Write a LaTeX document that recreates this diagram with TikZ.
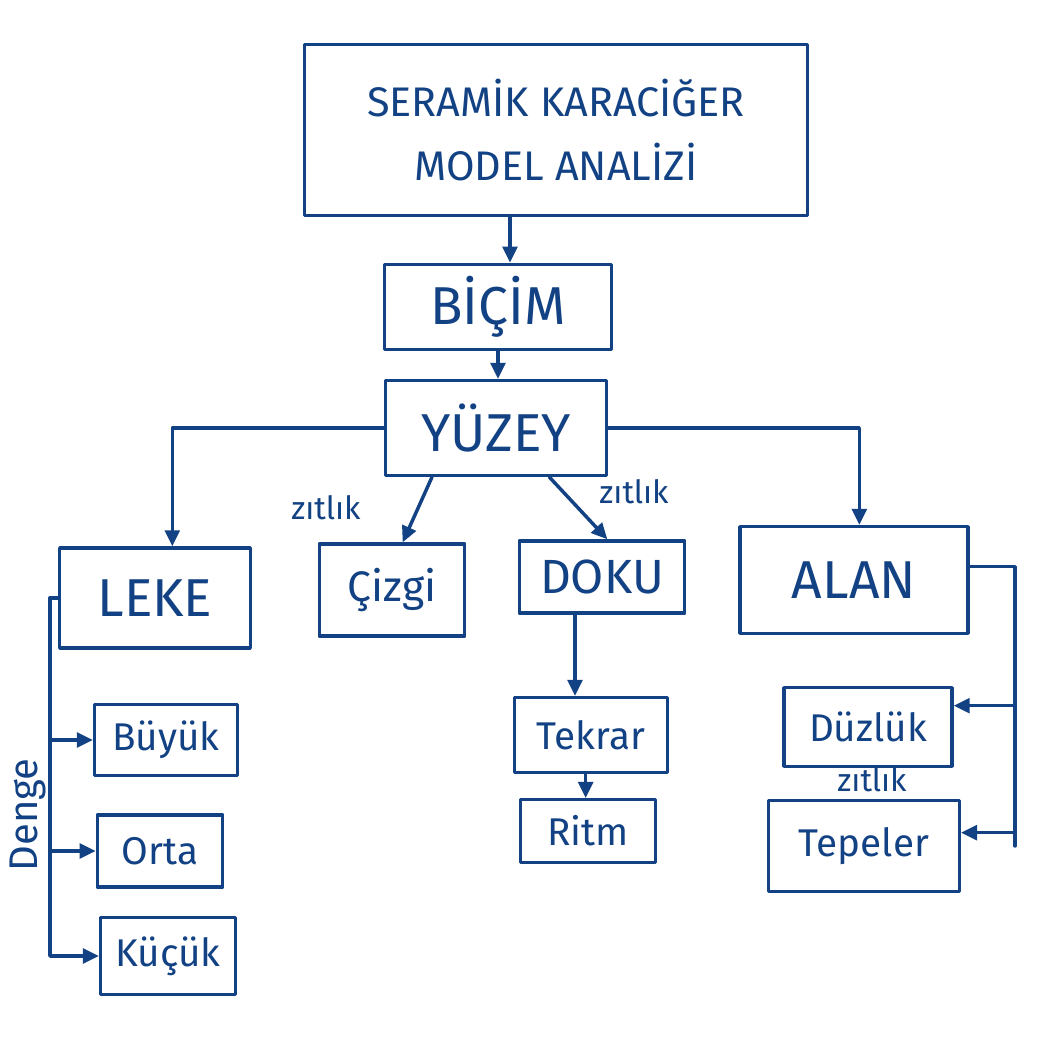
\documentclass[tikz,border=0pt]{standalone}
\usepackage{fontspec}
\setmainfont{Fira Sans}
\usetikzlibrary{arrows.meta}
\definecolor{ink}{RGB}{18,66,132}
\begin{document}
\begin{tikzpicture}[x=0.75pt,y=-0.75pt,
  ink/.style={draw=ink,line width=2.6pt,line cap=round,line join=round},
  box/.style={ink,rectangle,inner sep=0pt,text=ink},
  arr/.style={ink,-{Triangle[length=12pt,width=11pt]}},
  lbl/.style={text=ink,inner sep=0pt},
  f/.style={font=\fontsize{#1}{#1}\selectfont}]
\path[use as bounding box,fill=white] (0,0) rectangle (1060,1040);
% main boxes
\node[box,minimum width=377pt,minimum height=128pt,align=center,font=\fontsize{31}{48}\selectfont] (title) at (556,130) {SERAMİK KARACİĞER\\MODEL ANALİZİ};
\node[box,minimum width=170pt,minimum height=64pt,f=40] (bicim) at (498,307) {BİÇİM};
\node[box,minimum width=166pt,minimum height=71pt,f=40] (yuzey) at (496,428) {YÜZEY};
\node[box,minimum width=143pt,minimum height=75pt,f=40] (leke) at (155,598) {LEKE};
\node[box,minimum width=109pt,minimum height=69pt,f=32] (cizgi) at (392,590) {Çizgi};
\node[box,minimum width=124pt,minimum height=54pt,f=36] (doku) at (602,577) {DOKU};
\node[box,minimum width=171pt,minimum height=80pt,f=40] (alan) at (854,580) {ALAN};
% sub boxes
\node[box,minimum width=107pt,minimum height=53pt,f=29] (buyuk) at (166,740) {Büyük};
\node[box,minimum width=94pt,minimum height=54pt,f=29] (orta) at (160,851) {Orta};
\node[box,minimum width=101pt,minimum height=58pt,f=29] (kucuk) at (168,956) {Küçük};
\node[box,minimum width=115pt,minimum height=56pt,f=29] (tekrar) at (591,735) {Tekrar};
\node[box,minimum width=101pt,minimum height=47pt,f=29] (ritm) at (588,831) {Ritm};
\node[box,minimum width=126pt,minimum height=59pt,f=29] (duzluk) at (868,727) {Düzlük};
\node[box,minimum width=143pt,minimum height=68pt,f=29] (tepeler) at (864,846) {Tepeler};
% labels
\node[lbl,f=24] (z1) at (326,508) {zıtlık};
\node[lbl,f=24] (z2) at (634,492) {zıtlık};
\node[lbl,f=24] (z3) at (872,780) {zıtlık};
\node[lbl,f=30,rotate=90] (denge) at (28,815) {Denge};
% connectors
\draw[arr] (bicim.north |- title.south) ++(12,0) coordinate (t1) -- (t1 |- bicim.north);
\draw[arr] (bicim.south) -- (bicim.south |- yuzey.north);
\draw[arr] (yuzey.west) -| ([xshift=13pt]leke.north);
\draw[arr] ([xshift=-48pt]yuzey.south) -- ([xshift=8pt]cizgi.north);
\draw[arr] ([xshift=40pt]yuzey.south) -- ([xshift=4pt]doku.north);
\draw[arr] (yuzey.east) -| ([xshift=4pt]alan.north);
\draw[arr] ([xshift=-12pt]tekrar.north |- doku.south) -- ([xshift=-12pt]tekrar.north);
\draw[arr] ([xshift=-4pt]tekrar.south) -- ([xshift=-4pt]tekrar.south |- ritm.north);
% left bus (Denge)
\coordinate (lbus) at (50,0);
\draw[ink] (leke.west) -- (lbus |- leke.west);
\draw[arr] (lbus |- leke.west) |- (kucuk.west);
\draw[arr] (lbus |- buyuk.west) -- (buyuk.west);
\draw[arr] (lbus |- orta.west) -- (orta.west);
% right bus
\coordinate (rbus) at (1015,0);
\draw[ink] ([yshift=10pt]alan.east) -- ([yshift=10pt]rbus |- alan.east) -- (rbus |- tepeler.east);
\draw[arr] ([yshift=16pt]rbus |- duzluk.east) -- ([yshift=16pt]duzluk.east);
\draw[arr] ([yshift=10pt]rbus |- tepeler.east) -- ([yshift=10pt]tepeler.east);
\end{tikzpicture}
\end{document}
